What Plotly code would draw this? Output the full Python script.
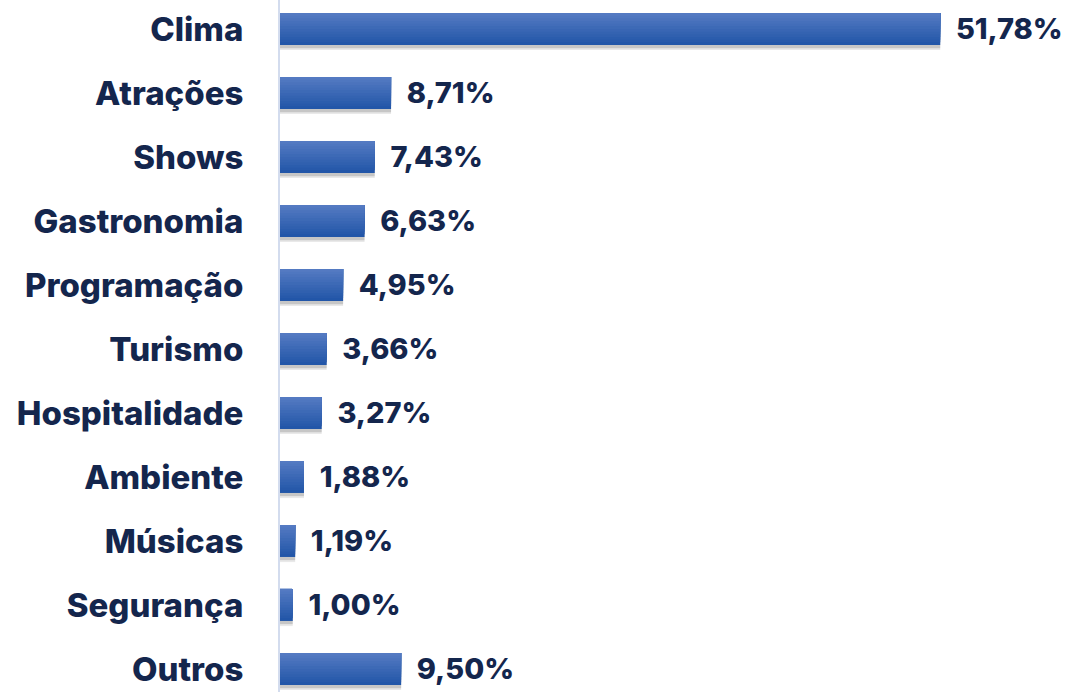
import plotly.graph_objects as go

categories = ["Clima", "Atrações", "Shows", "Gastronomia", "Programação", "Turismo",
              "Hospitalidade", "Ambiente", "Músicas", "Segurança", "Outros"]
values = [51.78, 8.71, 7.43, 6.63, 4.95, 3.66, 3.27, 1.88, 1.19, 1.00, 9.50]

TEXT_COLOR = "#14264d"
FONT = "Inter"

fig = go.Figure()

# soft shadow (two layers to fake a blur)
for off, alpha in [(-0.17, 0.10), (-0.2, 0.18)]:
    fig.add_trace(go.Bar(
        y=categories, x=values, orientation="h",
        width=0.5, offset=off,
        marker=dict(color="rgba(40,40,40,%.2f)" % alpha, line=dict(width=0)),
        hoverinfo="skip", showlegend=False,
    ))

# gradient bars built from layered strips (dark bottom -> light top)
N = 12
top = (84, 122, 194)
bot = (34, 86, 168)
for k in range(N):
    t = k / (N - 1)
    c = tuple(int(round(bot[i] + (top[i] - bot[i]) * t)) for i in range(3))
    w = 0.5 * (N - k) / N
    fig.add_trace(go.Bar(
        y=categories, x=values, orientation="h",
        width=w, offset=-0.25,
        marker=dict(color="rgb(%d,%d,%d)" % c, line=dict(width=0)),
        text=values if k == 0 else None,
        texttemplate="\u00a0\u00a0%{x:.2f}%" if k == 0 else None,
        textposition="outside" if k == 0 else None,
        constraintext="none",
        textfont=dict(family=FONT, size=29, color=TEXT_COLOR, weight=800),
        cliponaxis=False,
        hoverinfo="skip", showlegend=False,
    ))

fig.update_layout(
    width=1069, height=692,
    margin=dict(l=280, r=0, t=0, b=0, autoexpand=False),
    paper_bgcolor="white", plot_bgcolor="white",
    barmode="overlay",
    separators=",.",
    font=dict(family=FONT, color=TEXT_COLOR),
    xaxis=dict(range=[0, 61.88], visible=False, fixedrange=True),
    yaxis=dict(
        type="category",
        categoryorder="array", categoryarray=categories,
        range=[10.36, -0.453],
        showline=True, linecolor="#d3dcee", linewidth=2,
        showgrid=False, zeroline=False, fixedrange=True,
        ticks="", ticklabelstandoff=28,
        tickfont=dict(family=FONT, size=33, color=TEXT_COLOR, weight=800),
    ),
)

fig.write_html(
    "out.html",
    config={"displayModeBar": False, "staticPlot": True},
    post_script="document.body.style.margin='0';document.body.style.overflow='hidden';",
)
